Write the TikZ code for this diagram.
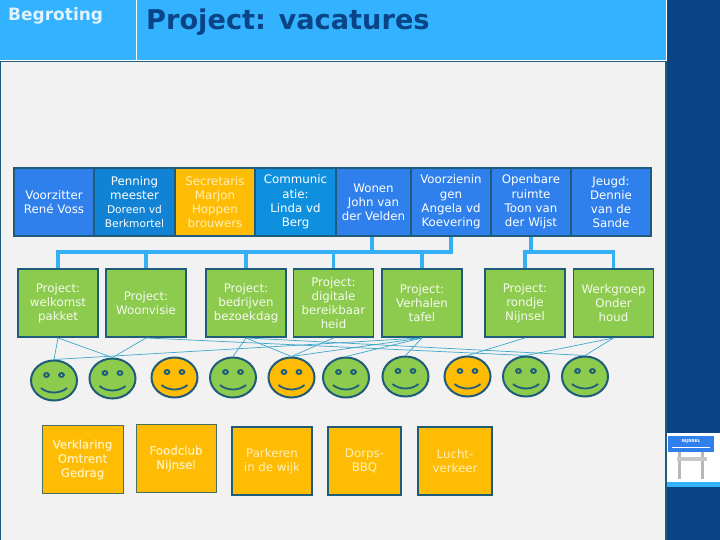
\documentclass[tikz,border=0pt]{standalone}
\usetikzlibrary{shapes.geometric}
\usepackage{fontspec}
\setmainfont{DejaVu Sans}
\newfontfamily\semif[FakeBold=0.7]{DejaVu Sans}
\newcommand{\smallname}{\fontsize{10.6}{14.2}\selectfont}
\definecolor{hdr}{HTML}{33B2FF}
\definecolor{navy}{HTML}{0A4386}
\definecolor{edge}{HTML}{1F5C7A}
\definecolor{bg}{HTML}{F2F2F2}
\definecolor{blueA}{HTML}{2F80ED}
\definecolor{blueB}{HTML}{1283D4}
\definecolor{blueC}{HTML}{0E90DE}
\definecolor{grn}{HTML}{8DCB4E}
\definecolor{org}{HTML}{FFBC05}
\definecolor{link}{HTML}{36B0F5}
\definecolor{thin}{HTML}{3FA6CC}
\definecolor{pale}{HTML}{FFF0B8}
\tikzset{x=1pt,y=-1pt,
 txt/.style={inner sep=0pt,align=center,font=\fontsize{11.8}{14.2}\selectfont},
 cell/.style={txt,draw=edge,line width=1.8pt,minimum width=#1,minimum height=68pt,text=white},
 gbox/.style={txt,draw=edge,line width=1.9pt,fill=grn,minimum width=80pt,minimum height=68pt,text=white!90!grn},
 obox/.style={txt,draw=edge,line width=1.9pt,fill=org,minimum width=#1,minimum height=68pt,text=pale},
 bar/.style={draw=link,line width=3.6pt},
 thinl/.style={draw=thin,line width=.7pt},
 face/.style={draw=edge,line width=2pt,ellipse,minimum width=46pt,minimum height=40pt,inner sep=0pt},
}
\newcommand{\facemarks}[2]{%
 \begin{scope}[shift={(#1)}]
 \fill[edge] (-7.5,-5.5) ellipse (3.4 and 3);
 \fill[edge] (7.5,-5.5) ellipse (3.4 and 3);
 \fill[#2] (-7.5,-5.5) ellipse (1.2 and 1.1);
 \fill[#2] (7.5,-5.5) ellipse (1.2 and 1.1);
 \draw[edge,line width=1.8pt] (-13,7.5) .. controls (-6,13.5) and (6,13.5) .. (13,7.5);
 \end{scope}
}
\begin{document}
\begin{tikzpicture}
\useasboundingbox (0,0) rectangle (720,540);
\fill[white] (0,0) rectangle (720,540);
\fill[bg] (0,61) rectangle (665,540);
\fill[navy] (666,0) rectangle (720,540);
\fill[hdr] (0,0) rectangle (665.5,60.5);
\draw[white,line width=1pt] (136.5,0) -- (136.5,60.5);
\draw[white,line width=1pt] (0,60.5) -- (666,60.5) -- (666,0);
\draw[edge,line width=1pt] (0,61.5) -- (665,61.5);
\draw[edge,line width=1pt] (.5,61.5) -- (.5,540);
\draw[edge,line width=2pt] (666,61) -- (666,540);
\node[anchor=west,inner sep=0pt,text=white!85!hdr,font=\bfseries\fontsize{17}{19}\selectfont] (begr) at (8,16) {Begroting};
\node[anchor=west,inner sep=0pt,text=navy,font=\bfseries\fontsize{27.2}{30}\selectfont] (title) at (146,22.5) {Project: vacatures};
% logo
\fill[white] (667,433) rectangle (720,482);
\fill[hdr] (667,482) rectangle (720,487);
\fill[black!28] (678,452) rectangle (681,479);
\fill[black!28] (701,452) rectangle (704,479);
\fill[black!22] (677,457) rectangle (707,461);
\fill[blueA] (668,436) rectangle (714,452);
\draw[white,line width=.5pt] (672,447.5) -- (710,447.5);
\node[text=white,font=\bfseries\fontsize{4.2}{5}\selectfont] (lg1) at (691,441) {NIJNSEL};
% top row
\node[cell=80pt,fill=blueA] (c1) at (54,202) {Voorzitter\\René Voss};
\node[cell=81pt,fill=blueB] (c2) at (134.5,202) {Penning\\meester\\\smallname Doreen vd\\\smallname Berkmortel};
\node[cell=80pt,fill=org,text=pale] (c3) at (215,202) {Secretaris\\Marjon\\Hoppen\\brouwers};
\node[cell=81pt,fill=blueC] (c4) at (295.5,202) {Communic\\atie:\\Linda vd\\Berg};
\node[cell=75pt,fill=blueA] (c5) at (373.5,202) {Wonen\\John van\\der Velden};
\node[cell=80pt,fill=blueA] (c6) at (451,202) {Voorzienin\\gen\\Angela vd\\Koevering};
\node[cell=80pt,fill=blueA] (c7) at (531,202) {Openbare\\ruimte\\Toon van\\der Wijst};
\node[cell=80pt,fill=blueA] (c8) at (611,202) {Jeugd:\\Dennie\\van de\\Sande};
% connectors
\coordinate (j5) at (372,252);
\draw[bar] (372,237) -- (j5);
\draw[bar] (c6.south) -- (451,252) -- (58,252) -- (58,269);
\draw[bar] (146,252) -- (146,269);
\draw[bar] (246,252) -- (246,269);
\draw[bar] (333.5,252) -- (333.5,269);
\draw[bar] (422,252) -- (422,269);
\draw[bar] (c7.south) -- (531,252);
\draw[bar] (525,269) -- (525,252) -- (613.5,252) -- (613.5,269);
% green row
\node[gbox] (g1) at (58,303) {Project:\\welkomst\\pakket};
\node[gbox] (g2) at (146,303) {Project:\\Woonvisie};
\node[gbox] (g3) at (246,303) {Project:\\bedrijven\\bezoekdag};
\node[gbox] (g4) at (333.5,303) {Project:\\digitale\\bereikbaar\\heid};
\node[gbox] (g5) at (422,303) {Project:\\Verhalen\\tafel};
\node[gbox] (g6) at (525,303) {Project:\\rondje\\Nijnsel};
\node[gbox] (g7) at (613.5,303) {Werkgroep\\Onder\\houd};
% faces
\node[face,fill=grn] (f1) at (54,380.5) {};
\node[face,fill=grn] (f2) at (112.5,378.5) {};
\node[face,fill=org] (f3) at (174.5,377.5) {};
\node[face,fill=grn] (f4) at (233,377.5) {};
\node[face,fill=org] (f5) at (291.5,377.5) {};
\node[face,fill=grn] (f6) at (346,377.5) {};
\node[face,fill=grn] (f7) at (405.5,376.5) {};
\node[face,fill=org] (f8) at (467.5,376.5) {};
\node[face,fill=grn] (f9) at (526,376.5) {};
\node[face,fill=grn] (f10) at (585,376.5) {};
\foreach \n/\c in {f1/grn,f2/grn,f3/org,f4/grn,f5/org,f6/grn,f7/grn,f8/org,f9/grn,f10/grn}{\facemarks{\n}{\c}}
% thin links
\foreach \a/\b in {g1/f1,g1/f2,g2/f2,g3/f4,g3/f5,g4/f5,g5/f7,g5/f6,g6/f8,g7/f9,g7/f10,g2/f9,g3/f10,g5/f5}
 \draw[thinl] (\a.south) -- (\b.north);
\draw[thinl] (f1.north) -- (g5.south);
% orange boxes
\node[obox=81pt,draw=edge!80!org,line width=.9pt] (o1) at (82.5,459.5) {\semif Verklaring\\\semif Omtrent\\\semif Gedrag};
\node[obox=80pt,draw=edge!80!org,line width=.9pt] (o2) at (176,458.5) {\semif Foodclub\\\semif Nijnsel};
\node[obox=80pt] (o3) at (272,461) {Parkeren\\in de wijk};
\node[obox=73pt] (o4) at (364.5,461) {Dorps-\\BBQ};
\node[obox=74pt] (o5) at (455,461) {Lucht-\\verkeer};
\end{tikzpicture}
\end{document}
